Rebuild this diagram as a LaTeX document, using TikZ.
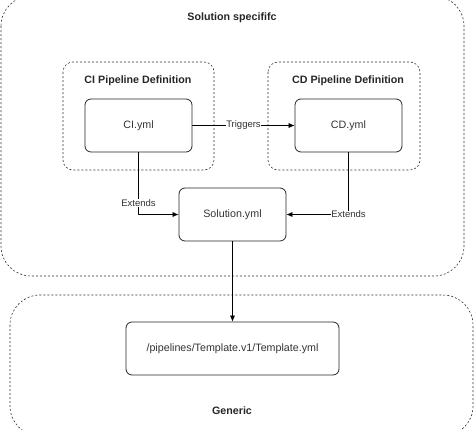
\documentclass[tikz,border=0pt]{standalone}
\usepackage{fontspec}
\setmainfont{Liberation Sans}
\usetikzlibrary{positioning, arrows.meta}
\tikzset{>=latex}
\tikzset{
    filebox/.style={draw=black!85, line width=0.8pt, rounded corners=6pt, minimum width=107pt, minimum height=53pt, text=black!80, font=\fontsize{10.7}{13}\selectfont},
    groupbox/.style={draw=black!80, line width=0.6pt, dash pattern=on 2pt off 2pt},
    grouptitle/.style={text=black!85, font=\bfseries\fontsize{10.7}{13}\selectfont},
    edgetext/.style={fill=white, inner sep=0.5pt, text=black!80, font=\fontsize{9.5}{11}\selectfont}
}

\begin{document}
\begin{tikzpicture}[x=1pt, y=-1pt, line join = round]
    \useasboundingbox (0,0) rectangle (474,429);

    % outer groups
    \draw[groupbox, rounded corners=30pt] (1,-4) rectangle (464,276);
    \draw[groupbox, rounded corners=30pt] (10,295) rectangle (473,436);
    \node[grouptitle] (specific) at (232,18) {Solution specififc};
    \node[grouptitle] (generic) at (232,411) {Generic};

    % pipeline groups
    \draw[groupbox, rounded corners=10pt] (63,62) rectangle (214,170);
    \draw[groupbox, rounded corners=10pt] (268,62) rectangle (420,170);
    \node[grouptitle] (cititle) at (138,81) {CI Pipeline Definition};
    \node[grouptitle] (cdtitle) at (348,81) {CD Pipeline Definition};

    % files
    \node[filebox] (ci) at (138.5,125.5) {CI.yml};
    \node[filebox] (cd) at (348.5,125.5) {CD.yml};
    \node[filebox] (sol) at (232.5,214.5) {Solution.yml};
    \node[filebox, minimum width=213pt] (tpl) at (232.5,348.5) {/pipelines/Template.v1/Template.yml};

    % links
    \draw[-{Latex[length=6pt,width=5pt]}, line width=0.6pt] (ci) -- node[edgetext] {Triggers} (cd);
    \draw[-{Latex[length=6pt,width=5pt]}, line width=0.6pt] (ci) |- node[edgetext, pos=0.41] {Extends} (sol);
    \draw[-{Latex[length=6pt,width=5pt]}, line width=0.6pt] (cd) |- node[edgetext, pos=0.5] {Extends} (sol);
    \draw[-{Latex[length=6pt,width=5pt]}, line width=0.6pt] (sol) -- (tpl);

\end{tikzpicture}
\end{document}
